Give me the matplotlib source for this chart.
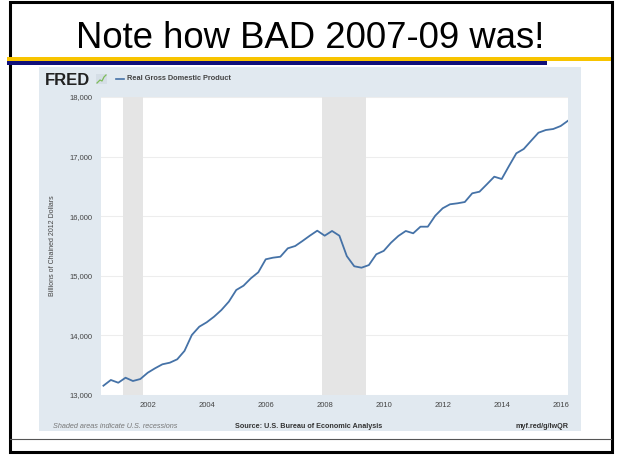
import pandas as pd
import matplotlib
matplotlib.use("Agg")
import matplotlib.pyplot as plt
import matplotlib.dates as mdates
from matplotlib.patches import Rectangle

plt.rcParams["font.family"] = ["Liberation Sans", "DejaVu Sans"]

# Real GDP, billions of chained 2012 dollars, quarterly 2000Q3 - 2016Q2
quarters = pd.period_range("2000Q3", "2016Q2", freq="Q")
gdp = [
    13156, 13252,
    13206, 13290, 13235, 13268,
    13374, 13448, 13515, 13542,
    13599, 13740, 14007, 14146,
    14220, 14314, 14426, 14566,
    14762, 14834, 14958, 15059,
    15277, 15304, 15320, 15461,
    15500, 15584, 15673, 15757,
    15673, 15752, 15673, 15330,
    15160, 15136, 15180, 15361,
    15418, 15555, 15668, 15752,
    15713, 15824, 15824, 16008,
    16133, 16200, 16216, 16238,
    16384, 16411, 16535, 16663,
    16624, 16842, 17055, 17128,
    17267, 17401, 17446, 17463,
    17513, 17602,
]
recessions = [("2001-03-01", "2001-11-01"), ("2007-12-01", "2009-06-01")]
tick_years = [2002, 2004, 2006, 2008, 2010, 2012, 2014, 2016]
y_ticks = [13000, 14000, 15000, 16000, 17000, 18000]

W, H = 619, 455
fig = plt.figure(figsize=(W / 100, H / 100), dpi=100)

# background layer in pixel coordinates for the slide decorations
bg = fig.add_axes([0, 0, 1, 1])
bg.set_xlim(0, W)
bg.set_ylim(H, 0)
bg.axis("off")

# slide frame
bg.add_patch(Rectangle((9.5, 2), 602, 449.5, fill=False, ec="black", lw=2.2))
bg.plot([10, 611], [439, 439], color="#555555", lw=0.8)
bg.add_patch(Rectangle((7, 57), 604, 3.5, color="#F8C400", lw=0))
bg.add_patch(Rectangle((7, 60.5), 540, 4.5, color="#10107A", lw=0))
bg.text(310, 48, "Note how BAD 2007-09 was!", fontsize=26.3,
        ha="center", va="baseline", color="black")

# FRED panel
bg.add_patch(Rectangle((39, 67), 542, 364, color="#E1E9F0", lw=0))
bg.text(45, 85, "FRED", fontsize=12, fontweight="bold", color="#222222",
        ha="left", va="baseline")
bg.add_patch(Rectangle((96, 74), 11, 10, color="#D5DEE6", lw=0))
bg.plot([97, 100, 102, 104, 106], [83, 80, 81, 77, 75], color="#7DBB5A", lw=0.9)
bg.plot([116, 124], [78.5, 78.5], color="#4572A7", lw=1.2)
bg.text(127, 78.5, "Real Gross Domestic Product", fontsize=5.3,
        fontweight="bold", color="#444444", ha="left", va="center")
bg.text(52, 246, "Billions of Chained 2012 Dollars", fontsize=5, color="#444444",
        rotation=90, ha="center", va="center")
bg.text(53, 426, "Shaded areas indicate U.S. recessions", fontsize=5.2,
        style="italic", color="#777777", ha="left", va="center")
bg.text(309, 426, "Source: U.S. Bureau of Economic Analysis", fontsize=5.2,
        fontweight="bold", color="#333333", ha="center", va="center")
bg.text(568, 426, "myf.red/g/lwQR", fontsize=5.2, fontweight="bold",
        color="#333333", ha="right", va="center")

# main chart
ax = fig.add_axes([101 / W, 1 - 395 / H, (568 - 101) / W, (395 - 97) / H])
ax.set_facecolor("white")
dates = quarters.to_timestamp()
for start, end in recessions:
    ax.axvspan(pd.Timestamp(start), pd.Timestamp(end), color="#E5E5E5", lw=0, zorder=1)
ax.plot(dates, gdp, color="#4572A7", lw=1.3, zorder=3)

ax.set_ylim(13000, 18000)
ax.set_xlim(pd.Timestamp("2000-06-01"), pd.Timestamp("2016-04-01"))
ax.set_yticks(y_ticks)
ax.set_yticklabels([f"{v:,}" for v in y_ticks])
ax.set_xticks([pd.Timestamp(f"{y}-01-01") for y in tick_years])
ax.xaxis.set_major_formatter(mdates.DateFormatter("%Y"))
ax.grid(axis="y", color="#EDEDED", lw=0.8, zorder=0)
ax.set_axisbelow(True)
for s in ax.spines.values():
    s.set_visible(False)
ax.tick_params(axis="both", length=0, labelsize=5.5, labelcolor="#444444")
ax.tick_params(axis="y", pad=6.5)
ax.tick_params(axis="x", pad=5)

fig.savefig("out.png", dpi=100)
